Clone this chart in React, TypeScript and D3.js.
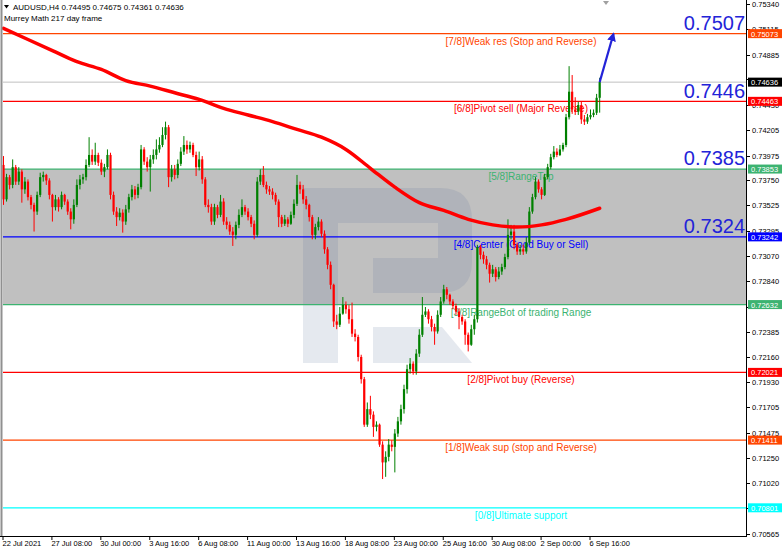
import React from "react";
import * as d3 from "d3";

// AUDUSD H4 candles (oldest first); open of each bar = previous close
const firstOpen = 0.7389;
const closes = [
  0.7358, 0.7378, 0.7371, 0.7387, 0.7374, 0.7383, 0.7367, 0.7374, 0.736, 0.7353,
  0.7347, 0.7362, 0.7378, 0.738, 0.7375, 0.7362, 0.7351, 0.7358, 0.7351, 0.7362,
  0.7356, 0.7347, 0.734, 0.7353, 0.7371, 0.7376, 0.7378, 0.7389, 0.7398, 0.7392,
  0.7398, 0.7391, 0.7383, 0.7387, 0.7398, 0.7362, 0.7347, 0.7342, 0.7346, 0.7338,
  0.7349, 0.736, 0.7367, 0.7362, 0.7369, 0.7403, 0.7392, 0.7387, 0.7394, 0.7398,
  0.7403, 0.7407, 0.7416, 0.7423, 0.7378, 0.7385, 0.738, 0.739, 0.7401, 0.7407,
  0.7403, 0.7407, 0.7398, 0.7387, 0.7394, 0.7376, 0.7353, 0.7351, 0.7338, 0.7351,
  0.7344, 0.7356, 0.7338, 0.7335, 0.7329, 0.7326, 0.7335, 0.7344, 0.7351, 0.7347,
  0.7342, 0.7336, 0.7326, 0.7374, 0.738, 0.7371, 0.7367, 0.7365, 0.7362, 0.7356,
  0.7342, 0.7336, 0.734, 0.7336, 0.7344, 0.7354, 0.7371, 0.7367, 0.7358, 0.7353,
  0.7342, 0.7326, 0.7333, 0.7338, 0.7327, 0.7313, 0.7299, 0.7281, 0.7248, 0.7245,
  0.7255, 0.7263, 0.7259, 0.725, 0.7237, 0.7234, 0.7216, 0.7196, 0.7155, 0.7169,
  0.7164, 0.7153, 0.7155, 0.7137, 0.7121, 0.7126, 0.7137, 0.7135, 0.7147, 0.7158,
  0.7169, 0.7187, 0.7205, 0.721, 0.7203, 0.7219, 0.7236, 0.7254, 0.7257, 0.725,
  0.7243, 0.7239, 0.7254, 0.7266, 0.7277, 0.7272, 0.7266, 0.7262, 0.7257, 0.7252,
  0.7248, 0.7236, 0.7227, 0.7241, 0.725, 0.7315, 0.7308, 0.7304, 0.7299, 0.7291,
  0.7295, 0.7288, 0.7293, 0.7297, 0.7306, 0.7326, 0.7329, 0.7317, 0.7311, 0.7313,
  0.7311, 0.7319, 0.7347, 0.736, 0.7374, 0.7367, 0.7362, 0.7378, 0.7387, 0.7396,
  0.7401, 0.7398, 0.7403, 0.7407, 0.7432, 0.7455, 0.7439, 0.7437, 0.7443, 0.743,
  0.7428, 0.7432, 0.7434, 0.7436, 0.74495, 0.74636,
];
const highs = [
  0.7397, 0.7381, 0.738, 0.7394, 0.7389, 0.7387, 0.7385, 0.7378, 0.7376, 0.7362,
  0.7355, 0.7365, 0.7382, 0.7383, 0.7381, 0.7377, 0.7363, 0.7362, 0.736, 0.7365,
  0.7363, 0.7358, 0.735, 0.7358, 0.7376, 0.738, 0.7381, 0.7394, 0.7414, 0.7403,
  0.7409, 0.74, 0.7394, 0.739, 0.7403, 0.74, 0.7365, 0.7351, 0.735, 0.7349,
  0.7353, 0.7363, 0.7371, 0.737, 0.7372, 0.7407, 0.7405, 0.7396, 0.7398, 0.7403,
  0.7412, 0.7414, 0.7423, 0.7428, 0.7425, 0.7389, 0.7389, 0.7394, 0.7405, 0.7415,
  0.7411, 0.741, 0.7409, 0.7401, 0.7401, 0.7397, 0.7378, 0.7358, 0.7354, 0.7354,
  0.7353, 0.7362, 0.7359, 0.7342, 0.7338, 0.7333, 0.7338, 0.7349, 0.7358, 0.7353,
  0.735, 0.7344, 0.7339, 0.7378, 0.7385, 0.7388, 0.7374, 0.737, 0.7368, 0.7364,
  0.7358, 0.7344, 0.7344, 0.7342, 0.7347, 0.7358, 0.738, 0.7374, 0.7371, 0.7361,
  0.7354, 0.7344, 0.7336, 0.7342, 0.734, 0.733, 0.7315, 0.7302, 0.7282, 0.7254,
  0.7261, 0.727, 0.7266, 0.7263, 0.7265, 0.7241, 0.7236, 0.7218, 0.7198, 0.7175,
  0.7181, 0.7167, 0.7158, 0.7156, 0.714, 0.7131, 0.7142, 0.7141, 0.7151, 0.7162,
  0.7173, 0.7191, 0.7209, 0.7215, 0.7212, 0.7223, 0.7241, 0.727, 0.7261, 0.7259,
  0.7253, 0.7246, 0.7258, 0.727, 0.7281, 0.7279, 0.7273, 0.7268, 0.7264, 0.726,
  0.7254, 0.725, 0.7238, 0.7245, 0.7254, 0.7317, 0.7317, 0.7311, 0.7307, 0.7301,
  0.7299, 0.7297, 0.7297, 0.73, 0.7309, 0.734, 0.7335, 0.7335, 0.7319, 0.7317,
  0.7317, 0.7324, 0.7351, 0.7363, 0.7378, 0.7376, 0.7369, 0.7381, 0.739, 0.7399,
  0.7406, 0.7404, 0.7407, 0.7409, 0.7435, 0.7478, 0.747, 0.745, 0.7446, 0.7446,
  0.7434, 0.7435, 0.7439, 0.7439, 0.7453, 0.74675,
];
const lows = [
  0.7353, 0.7356, 0.7367, 0.7368, 0.7371, 0.7371, 0.7355, 0.7363, 0.7357, 0.7349,
  0.7329, 0.7344, 0.736, 0.7374, 0.7371, 0.7358, 0.7338, 0.7348, 0.7347, 0.7349,
  0.7353, 0.7344, 0.7331, 0.7336, 0.7351, 0.7367, 0.7372, 0.7375, 0.7387, 0.7389,
  0.7389, 0.7388, 0.738, 0.7378, 0.7385, 0.7358, 0.7344, 0.7334, 0.7339, 0.7328,
  0.7335, 0.7346, 0.7357, 0.7358, 0.7359, 0.7367, 0.7389, 0.7383, 0.7365, 0.739,
  0.7394, 0.74, 0.7405, 0.7412, 0.7369, 0.7374, 0.7376, 0.7377, 0.7388, 0.7398,
  0.7399, 0.74, 0.7396, 0.7379, 0.7384, 0.7372, 0.7351, 0.7346, 0.7335, 0.7335,
  0.7341, 0.7342, 0.7335, 0.7331, 0.7326, 0.7316, 0.7322, 0.7332, 0.7342, 0.7344,
  0.7339, 0.7333, 0.7322, 0.7324, 0.7371, 0.7369, 0.7363, 0.7362, 0.7358, 0.7353,
  0.7333, 0.7333, 0.7334, 0.7333, 0.7335, 0.7341, 0.7352, 0.7363, 0.7354, 0.7349,
  0.7338, 0.7322, 0.7322, 0.733, 0.7324, 0.7309, 0.7295, 0.7277, 0.7243, 0.7241,
  0.7243, 0.7254, 0.7255, 0.7246, 0.7234, 0.723, 0.7212, 0.7192, 0.7153, 0.7153,
  0.716, 0.7144, 0.7149, 0.7135, 0.7106, 0.7108, 0.7122, 0.7131, 0.7112, 0.7144,
  0.7155, 0.7165, 0.7183, 0.7201, 0.72, 0.72, 0.7216, 0.7234, 0.7252, 0.7246,
  0.7239, 0.7227, 0.7237, 0.7252, 0.7264, 0.7268, 0.7263, 0.7259, 0.7254, 0.7241,
  0.7245, 0.7227, 0.7221, 0.7226, 0.7236, 0.7247, 0.7304, 0.73, 0.7295, 0.7283,
  0.7288, 0.7284, 0.7286, 0.729, 0.7295, 0.7304, 0.7322, 0.7313, 0.7308, 0.7308,
  0.7308, 0.7309, 0.7317, 0.7345, 0.7358, 0.7364, 0.7358, 0.7361, 0.7376, 0.7385,
  0.7394, 0.7396, 0.7397, 0.7401, 0.7405, 0.743, 0.7435, 0.7434, 0.7434, 0.7426,
  0.7425, 0.7426, 0.743, 0.7432, 0.7434, 0.74361,
];

// Murrey Math 217 day frame, read at every 8th bar
const maBars = [0, 8, 16, 24, 32, 40, 48, 56, 64, 72, 80, 88, 96, 104, 112, 120, 128, 136, 144, 152, 160, 168, 176, 184, 195];
const maValues = [
  0.7512, 0.7502, 0.7492, 0.7482, 0.7475, 0.7465, 0.746, 0.7454, 0.7448, 0.744,
  0.7434, 0.7428, 0.7421, 0.7414, 0.7403, 0.7386, 0.7369, 0.7355, 0.7348, 0.734,
  0.7335, 0.7333, 0.7335, 0.734, 0.735,
];

// Murrey levels, top to bottom
const levels = [0.75073, 0.74463, 0.73853, 0.73242, 0.72632, 0.72021, 0.71411, 0.70801];
const levelNames = [
  "[7/8]Weak res (Stop and Reverse)",
  "[6/8]Pivot sell (Major Reverse)",
  "[5/8]RangeTop",
  "[4/8]Center (Good Buy or Sell)",
  "[3/8]RangeBot of trading Range",
  "[2/8]Pivot buy (Reverse)",
  "[1/8]Weak sup (stop and Reverse)",
  "[0/8]Ultimate support",
];
const bigLevels = [0.7507, 0.7446, 0.7385, 0.7324];

// price scale marks; the ones sitting under a level box carry no label
const priceTicks = [
  0.7534, 0.75115, 0.74885, 0.7466, 0.7443, 0.74205, 0.73975, 0.7375, 0.73525, 0.73295, 0.7307,
  0.7284, 0.7261, 0.72385, 0.7216, 0.7193, 0.71705, 0.71475, 0.7125, 0.7102, 0.70795, 0.70565,
];
const hiddenTicks = [0.7466, 0.7261, 0.70795];
const timeBars = [0, 16, 32, 48, 64, 80, 96, 112, 128, 144, 160, 176, 192];
const timeLabels = [
  "22 Jul 2021", "27 Jul 08:00", "30 Jul 00:00", "3 Aug 16:00", "6 Aug 08:00", "11 Aug 00:00",
  "13 Aug 16:00", "18 Aug 08:00", "23 Aug 00:00", "25 Aug 16:00", "30 Aug 08:00", "2 Sep 00:00", "6 Sep 16:00",
];

// forecast arrow: from the last close up to the 7/8 level
const arrowBars = [195, 199.5];
const arrowPrices = [0.74636, 0.7507];

const levelColors = ["#ff4500", "#ff0000", "#3cb371", "#0000ff", "#3cb371", "#ff0000", "#ff4500", "#00ffff"];
const bull = "#008000";
const bear = "#ff0000";
const bigBlue = "#2323d8";
const font = "'Liberation Sans', Arial, sans-serif";

const W = 782;
const H = 552;
const left = 3;
const right = 746;
const bottom = 536;

export default function App() {
  const x = d3.scaleLinear().domain([0, 192]).range([3.5, 590.5]);
  const y = d3.scaleLinear().domain([0.70565, 0.7534]).range([534, 4]);

  const candles = closes.map((c, i) => {
    const o = i === 0 ? firstOpen : closes[i - 1];
    const hi = Math.max(highs[i], o, c);
    const lo = Math.min(lows[i], o, c);
    return { i, o, c, hi, lo, up: c >= o };
  });

  const maLine = d3
    .line<number>()
    .x((_, k) => x(maBars[k]))
    .y((v) => y(v))
    .curve(d3.curveMonotoneX);

  const last = candles[candles.length - 1];
  const prev = candles[candles.length - 2];
  const header = `AUDUSD,H4  ${prev.c.toFixed(5)} ${last.hi.toFixed(5)} ${last.lo.toFixed(5)} ${last.c.toFixed(5)}`;

  const bandTop = y(levels[2]);
  const bandBot = y(levels[4]);

  return (
    <svg width={W} height={H} style={{ display: "block", background: "#fff" }} fontFamily={font}>
      <style>{"body{margin:0}"}</style>
      <defs>
        <marker id="ah" viewBox="0 0 10 10" refX="8" refY="5" markerWidth="4" markerHeight="4" orient="auto">
          <path d="M0,0 L10,5 L0,10 z" fill={bigBlue} />
        </marker>
      </defs>

      {/* range band between 5/8 and 3/8 */}
      <rect x={left} y={bandTop} width={right - left} height={bandBot - bandTop} fill="#c0c0c0" />

      {/* watermark logo */}
      <g fill="#5a7099" opacity={0.15}>
        <rect x={303} y={188} width={35} height={175} />
        <path d="M338,188 H440 Q472,188 472,220 V262 Q472,293 440,293 H373 V258 H438 V223 H338 Z" />
        <path d="M373,327 H442 L472,363 H373 Z" />
      </g>

      {/* current price line */}
      <line x1={left} x2={right} y1={y(last.c)} y2={y(last.c)} stroke="#c0c0c0" strokeWidth={1} />

      {/* Murrey levels */}
      {levels.map((lv, k) => (
        <g key={lv}>
          <line x1={left} x2={right} y1={y(lv)} y2={y(lv)} stroke={levelColors[k]} strokeWidth={1.3} />
          <text x={521} y={y(lv) + 11} textAnchor="middle" fontSize={10} fill={levelColors[k]}>
            {levelNames[k]}
          </text>
        </g>
      ))}

      {/* candles */}
      {candles.map((d) => {
        const cx = x(d.i);
        const col = d.up ? bull : bear;
        const top = y(Math.max(d.o, d.c));
        const h = Math.max(1, y(Math.min(d.o, d.c)) - top);
        return (
          <g key={d.i}>
            <line x1={cx} x2={cx} y1={y(d.hi)} y2={y(d.lo)} stroke={col} strokeWidth={1} />
            <rect x={cx - 1.1} y={top} width={2.2} height={h} fill={col} />
          </g>
        );
      })}

      {/* moving frame line */}
      <path d={maLine(maValues) || ""} fill="none" stroke="#ff0000" strokeWidth={3.5} strokeLinecap="round" />

      {/* forecast arrow */}
      <line
        x1={x(arrowBars[0])}
        y1={y(arrowPrices[0])}
        x2={x(arrowBars[1])}
        y2={y(arrowPrices[1])}
        stroke={bigBlue}
        strokeWidth={2.2}
        markerEnd="url(#ah)"
      />

      {/* big level values */}
      {bigLevels.map((v) => (
        <text key={v} x={745} y={y(v) - 4} textAnchor="end" fontSize={20} fill={bigBlue}>
          {v.toFixed(4)}
        </text>
      ))}

      {/* header */}
      <path d="M4,5 L9,5 L6.5,8.5 Z" fill="#000" />
      <text x={13} y={10} fontSize={8} fill="#000">{header}</text>
      <text x={4} y={21} fontSize={8} fill="#000">Murrey Math 217 day frame</text>
      <path d="M603,1 L609,1 L606,5 Z" fill="#a0a0a0" />

      {/* frame */}
      <line x1={1.5} x2={1.5} y1={0} y2={bottom} stroke="#909090" strokeWidth={2} />
      <line x1={right + 0.5} x2={right + 0.5} y1={0} y2={bottom + 1} stroke="#000" />
      <line x1={0} x2={right + 1} y1={bottom + 0.5} y2={bottom + 0.5} stroke="#000" />

      {/* price axis */}
      {priceTicks.map((t) => (
        <g key={t}>
          <line x1={right} x2={right + 4} y1={Math.round(y(t)) + 0.5} y2={Math.round(y(t)) + 0.5} stroke="#000" />
          {hiddenTicks.includes(t) ? null : (
            <text x={752} y={y(t) + 3} fontSize={7.5} fill="#000">{t.toFixed(5)}</text>
          )}
        </g>
      ))}

      {/* level price boxes */}
      {levels.map((lv, k) => (
        <g key={"b" + lv}>
          <rect x={748} y={y(lv) - 4.5} width={34} height={9} fill={levelColors[k]} />
          <text x={751} y={y(lv) + 3} fontSize={7.5} fill="#fff">{lv.toFixed(5)}</text>
        </g>
      ))}
      <rect x={748} y={y(last.c) - 4.5} width={34} height={9} fill="#000" />
      <text x={751} y={y(last.c) + 3} fontSize={7.5} fill="#fff">{last.c.toFixed(5)}</text>

      {/* time axis */}
      {timeBars.map((b, k) => (
        <g key={b}>
          <line x1={x(b) - 0.5} x2={x(b) - 0.5} y1={bottom} y2={bottom + 4} stroke="#000" />
          <text x={x(b) - 1} y={546} fontSize={7.5} fill="#000">{timeLabels[k]}</text>
        </g>
      ))}
    </svg>
  );
}
